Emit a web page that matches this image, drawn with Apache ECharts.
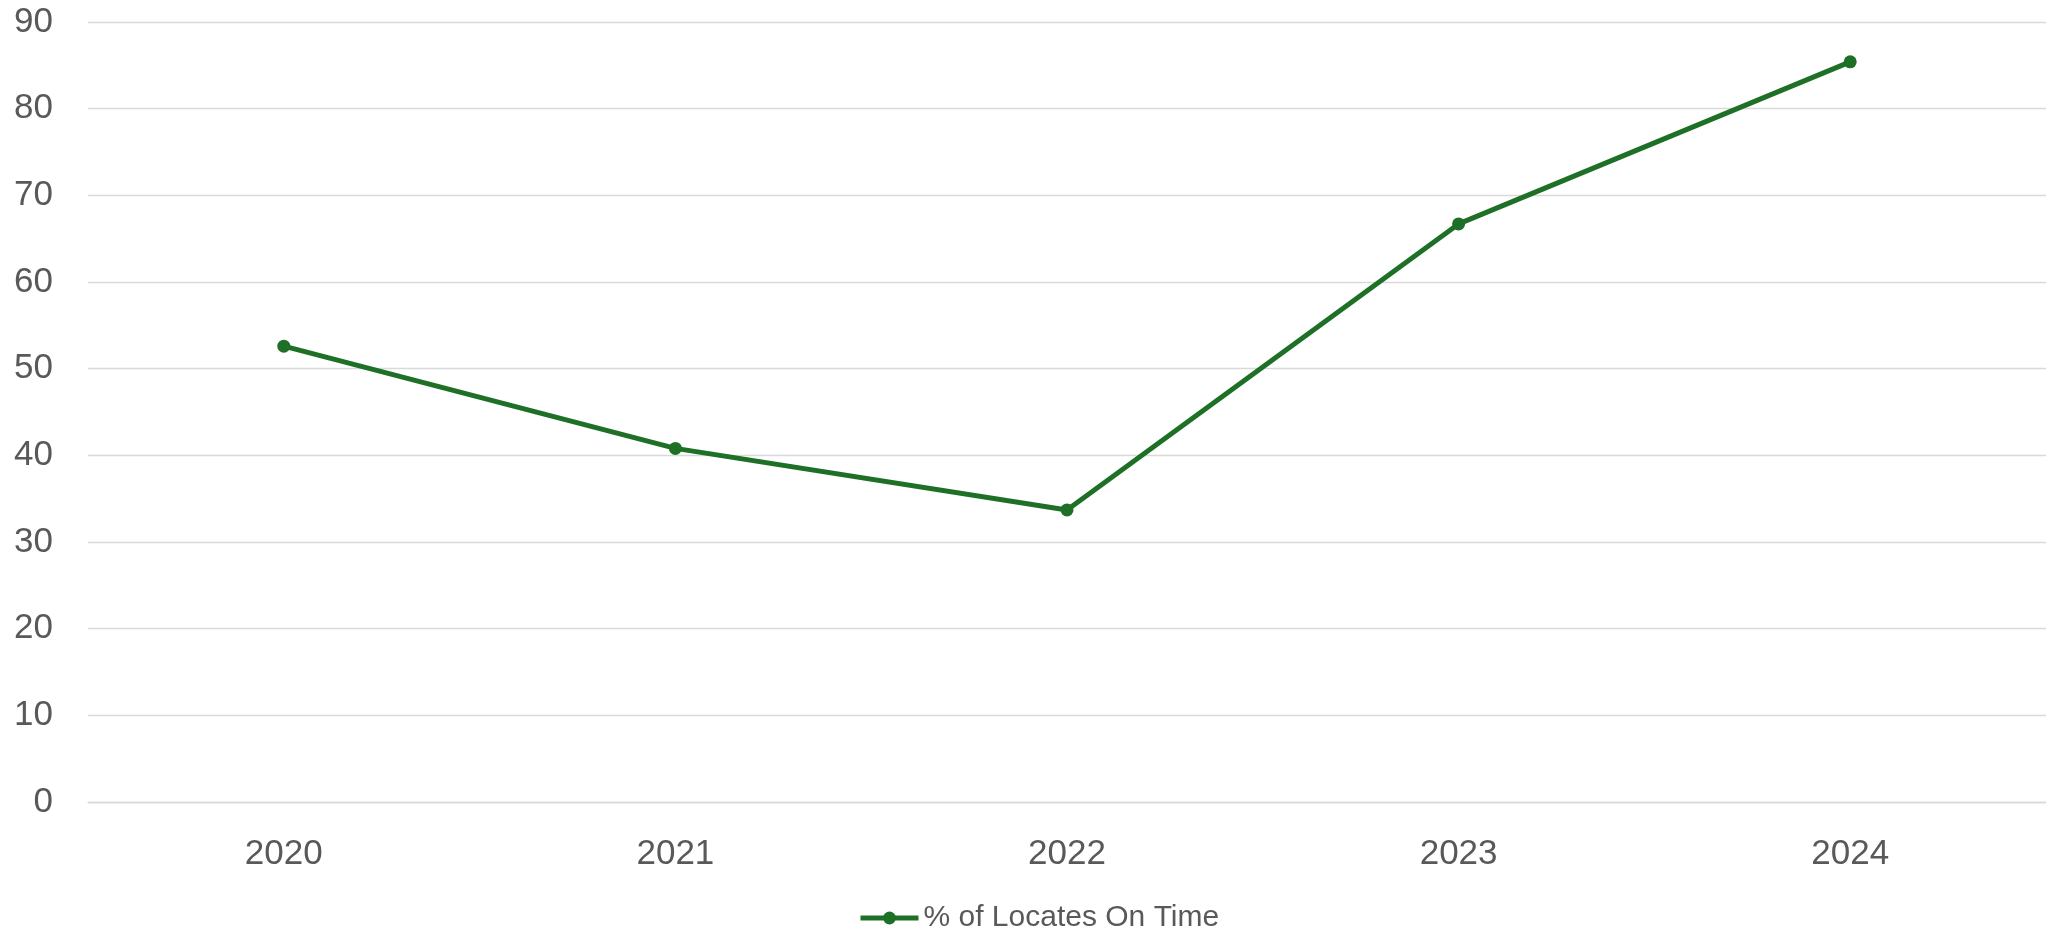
<!DOCTYPE html>
<html>
<head>
<meta charset="utf-8">
<script src="https://cdn.jsdelivr.net/npm/echarts@6/dist/echarts.min.js"></script>
<style>
    html, body { margin: 0; padding: 0; background: #fff; }
    #main { width: 2046px; height: 932px; }
</style>
</head>
<body>
<div id="main"></div>
<script>
// 数据
const years = ['2020', '2021', '2022', '2023', '2024'];
const onTimePct = [52.6, 40.8, 33.7, 66.7, 85.4];
const seriesName = '% of Locates On Time';

const lineColor = '#1e7027';
const textColor = '#595959';
const fontFamily = '"Liberation Sans", Arial, sans-serif';

const chart = echarts.init(document.getElementById('main'));

const option = {
    animation: false,
    backgroundColor: '#ffffff',
    grid: { left: 88, right: 0, top: 22, bottom: 130, containLabel: false },
    legend: {
        top: 898,
        left: 853,
        itemWidth: 58,
        itemHeight: 16,
        itemGap: 10,
        lineStyle: { width: 5 },
        textStyle: { color: textColor, fontSize: 30, fontFamily: fontFamily },
        data: [seriesName]
    },
    xAxis: {
        type: 'category',
        data: years,
        boundaryGap: true,
        axisLine: { lineStyle: { color: '#d9d9d9', width: 1.3 } },
        axisTick: { show: false },
        axisLabel: { color: textColor, fontSize: 35, fontFamily: fontFamily, margin: 35 }
    },
    yAxis: {
        type: 'value',
        min: 0,
        max: 90,
        interval: 10,
        axisLine: { show: false },
        axisTick: { show: false },
        splitLine: { lineStyle: { color: '#d9d9d9', width: 1.3 } },
        axisLabel: { color: textColor, fontSize: 35, fontFamily: fontFamily, margin: 35 }
    },
    series: [{
        name: seriesName,
        type: 'line',
        data: onTimePct,
        symbol: 'circle',
        symbolSize: 13,
        lineStyle: { color: lineColor, width: 5 },
        itemStyle: { color: lineColor }
    }]
};

chart.setOption(option);
</script>
</body>
</html>
